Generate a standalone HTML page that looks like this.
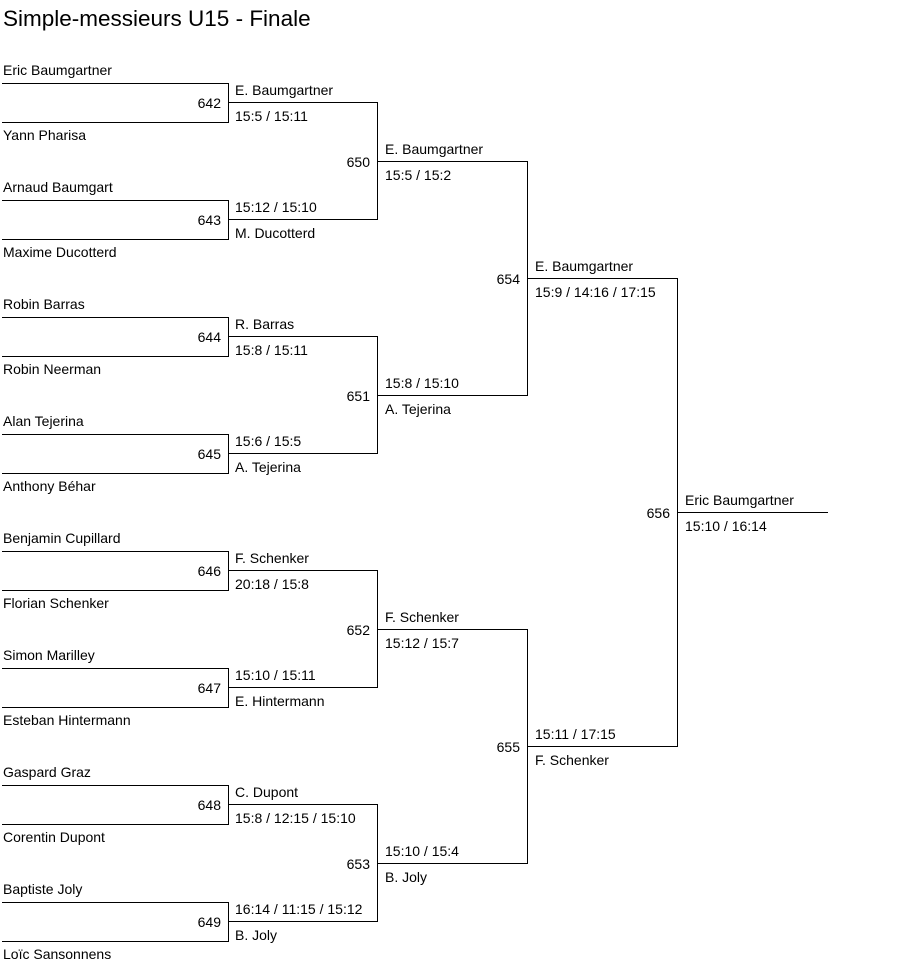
<!DOCTYPE html>
<html><head><meta charset="utf-8"><style>
body{margin:0;background:#fff;}
svg{display:block;font-family:"Liberation Sans",Arial,sans-serif;font-size:14px;}
text{fill:#000;}
</style></head><body>
<svg width="903" height="972" xmlns="http://www.w3.org/2000/svg">
<text x="3" y="26" font-size="22.5">Simple-messieurs U15 - Finale</text>
<g stroke="#000" stroke-width="1" fill="none" shape-rendering="crispEdges">
<path d="M2 83.5H228.5V122.5H2"/>
<path d="M2 200.5H228.5V239.5H2"/>
<path d="M2 317.5H228.5V356.5H2"/>
<path d="M2 434.5H228.5V473.5H2"/>
<path d="M2 551.5H228.5V590.5H2"/>
<path d="M2 668.5H228.5V707.5H2"/>
<path d="M2 785.5H228.5V824.5H2"/>
<path d="M2 902.5H228.5V941.5H2"/>
<path d="M228 102.5H377.5V219.5H228"/>
<path d="M228 336.5H377.5V453.5H228"/>
<path d="M228 570.5H377.5V687.5H228"/>
<path d="M228 804.5H377.5V921.5H228"/>
<path d="M377 161.5H527.5V395.5H377"/>
<path d="M377 629.5H527.5V863.5H377"/>
<path d="M527 278.5H677.5V746.5H527"/>
<path d="M677 512.5H828"/>
</g>
<g>
<text x="3" y="75">Eric Baumgartner</text>
<text x="3" y="140">Yann Pharisa</text>
<text x="3" y="192">Arnaud Baumgart</text>
<text x="3" y="257">Maxime Ducotterd</text>
<text x="3" y="309">Robin Barras</text>
<text x="3" y="374">Robin Neerman</text>
<text x="3" y="426">Alan Tejerina</text>
<text x="3" y="491">Anthony Béhar</text>
<text x="3" y="543">Benjamin Cupillard</text>
<text x="3" y="608">Florian Schenker</text>
<text x="3" y="660">Simon Marilley</text>
<text x="3" y="725">Esteban Hintermann</text>
<text x="3" y="777">Gaspard Graz</text>
<text x="3" y="842">Corentin Dupont</text>
<text x="3" y="894">Baptiste Joly</text>
<text x="3" y="959">Loïc Sansonnens</text>
</g>
<g text-anchor="end">
<text x="221" y="108">642</text>
<text x="221" y="225">643</text>
<text x="221" y="342">644</text>
<text x="221" y="459">645</text>
<text x="221" y="576">646</text>
<text x="221" y="693">647</text>
<text x="221" y="810">648</text>
<text x="221" y="927">649</text>
<text x="370" y="167">650</text>
<text x="370" y="401">651</text>
<text x="370" y="635">652</text>
<text x="370" y="869">653</text>
<text x="520" y="284">654</text>
<text x="520" y="752">655</text>
<text x="670" y="518">656</text>
</g>
<g>
<text x="235" y="95">E. Baumgartner</text><text x="235" y="121">15:5 / 15:11</text>
<text x="235" y="212">15:12 / 15:10</text><text x="235" y="238">M. Ducotterd</text>
<text x="235" y="329">R. Barras</text><text x="235" y="355">15:8 / 15:11</text>
<text x="235" y="446">15:6 / 15:5</text><text x="235" y="472">A. Tejerina</text>
<text x="235" y="563">F. Schenker</text><text x="235" y="589">20:18 / 15:8</text>
<text x="235" y="680">15:10 / 15:11</text><text x="235" y="706">E. Hintermann</text>
<text x="235" y="797">C. Dupont</text><text x="235" y="823">15:8 / 12:15 / 15:10</text>
<text x="235" y="914">16:14 / 11:15 / 15:12</text><text x="235" y="940">B. Joly</text>
<text x="385" y="154">E. Baumgartner</text><text x="385" y="180">15:5 / 15:2</text>
<text x="385" y="388">15:8 / 15:10</text><text x="385" y="414">A. Tejerina</text>
<text x="385" y="622">F. Schenker</text><text x="385" y="648">15:12 / 15:7</text>
<text x="385" y="856">15:10 / 15:4</text><text x="385" y="882">B. Joly</text>
<text x="535" y="271">E. Baumgartner</text><text x="535" y="297">15:9 / 14:16 / 17:15</text>
<text x="535" y="739">15:11 / 17:15</text><text x="535" y="765">F. Schenker</text>
<text x="685" y="505">Eric Baumgartner</text><text x="685" y="531">15:10 / 16:14</text>
</g>
</svg>
</body></html>
